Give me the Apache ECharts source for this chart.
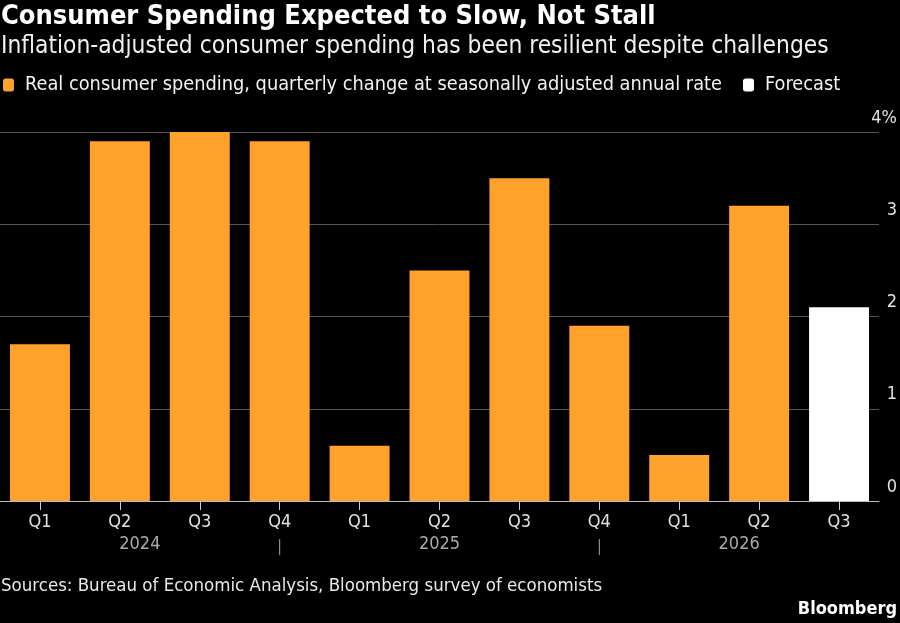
<!DOCTYPE html>
<html>
<head>
<meta charset="utf-8">
<script src="https://cdn.jsdelivr.net/npm/echarts@6/dist/echarts.min.js"></script>
<style>
  html, body { margin: 0; padding: 0; background: #000; }
  #chart { width: 900px; height: 623px; }
</style>
</head>
<body>
<div id="chart"></div>
<script>
// quarters, values (%), and which ones are forecasts
const quarters = ['Q1', 'Q2', 'Q3', 'Q4', 'Q1', 'Q2', 'Q3', 'Q4', 'Q1', 'Q2', 'Q3']
const values = [1.7, 3.9, 4.0, 3.9, 0.6, 2.5, 3.5, 1.9, 0.5, 3.2, 2.1]
const isForecast = [false, false, false, false, false, false, false, false, false, false, true]
// year groups: label, first index edge, last index edge
const years = ['2024', '2025', '2026']
const yearStart = [-0.5, 3, 7]
const yearEnd = [3, 7, 10.5]
const yearSeparators = [3, 7]

const font = '"Liberation Sans Narrow", "DejaVu Sans Condensed", "Roboto Condensed", sans-serif'
const orange = '#FFA22C'

let actualData = values.map((v, i) => isForecast[i] ? null : v)
let forecastData = values.map((v, i) => isForecast[i] ? v : null)

var chart = echarts.init(document.getElementById('chart'))
chart.setOption({
    backgroundColor: '#000',
    animation: false,
    textStyle: { fontFamily: font },
    title: [
        {
            text: 'Consumer Spending Expected to Slow, Not Stall',
            left: 1, top: 3, padding: 0,
            textStyle: { color: '#fff', fontSize: 27, fontWeight: 'bold', fontFamily: font }
        },
        {
            text: 'Inflation-adjusted consumer spending has been resilient despite challenges',
            left: 1, top: 35, padding: 0,
            textStyle: { color: '#f0f0f0', fontSize: 24.3, fontWeight: 'normal', fontFamily: font }
        },
        {
            text: 'Sources: Bureau of Economic Analysis, Bloomberg survey of economists',
            left: 1, top: 577, padding: 0,
            textStyle: { color: '#e8e8e8', fontSize: 18.5, fontWeight: 'normal', fontFamily: font }
        },
        {
            text: 'Bloomberg',
            right: 3, top: 600, padding: 0,
            textStyle: { color: '#fff', fontSize: 18, fontWeight: 'bold', fontFamily: font }
        }
    ],
    legend: {
        left: 3, top: 75, padding: 0,
        itemWidth: 11, itemHeight: 13,
        itemGap: 21,
        icon: 'roundRect',
        textStyle: { color: '#f2f2f2', fontSize: 19.8, fontFamily: font, padding: [0, 0, 0, 6] },
        data: ['Real consumer spending, quarterly change at seasonally adjusted annual rate', 'Forecast']
    },
    grid: { left: 0, right: 21, top: 132, bottom: 122 },
    xAxis: {
        type: 'category',
        data: quarters,
        axisLine: { show: true, lineStyle: { color: '#bbb', width: 1 } },
        axisTick: { show: true, alignWithLabel: true, length: 9, lineStyle: { color: '#ccc', width: 1 } },
        axisLabel: { color: '#e0e0e0', fontSize: 18, margin: 12, fontFamily: font }
    },
    yAxis: {
        type: 'value',
        position: 'right',
        min: 0, max: 4, interval: 1,
        splitLine: { lineStyle: { color: '#555', width: 1 } },
        axisLine: { show: false },
        axisTick: { show: false },
        axisLabel: {
            color: '#e0e0e0', fontSize: 18, fontFamily: font,
            align: 'right', verticalAlign: 'bottom', margin: 18,
            padding: [0, 0, 5, 0],
            formatter: v => v === 4 ? v + '%' : String(v)
        }
    },
    series: [
        {
            name: 'Real consumer spending, quarterly change at seasonally adjusted annual rate',
            type: 'bar',
            data: actualData,
            barWidth: '75%',
            barGap: '-100%',
            itemStyle: { color: orange }
        },
        {
            name: 'Forecast',
            type: 'bar',
            data: forecastData,
            barWidth: '75%',
            itemStyle: { color: '#fff' }
        }
    ]
})

// year labels and separators under the quarter labels
let graphics = []
let baseY = chart.convertToPixel({ yAxisIndex: 0 }, 0)
function xAt(idx) {
    let a = chart.convertToPixel({ xAxisIndex: 0 }, 0)
    let b = chart.convertToPixel({ xAxisIndex: 0 }, 1)
    return a + (b - a) * idx
}
for (let i in years) {
    graphics.push({
        type: 'text',
        x: (xAt(yearStart[i]) + xAt(yearEnd[i])) / 2,
        y: baseY + 43,
        style: { text: years[i], fill: '#aaa', font: '18px ' + font, align: 'center', verticalAlign: 'middle' }
    })
}
for (let s of yearSeparators) {
    graphics.push({
        type: 'line',
        shape: { x1: xAt(s), y1: baseY + 38, x2: xAt(s), y2: baseY + 54 },
        style: { stroke: '#aaa', lineWidth: 1 }
    })
}
chart.setOption({ graphic: graphics })
</script>
</body>
</html>
